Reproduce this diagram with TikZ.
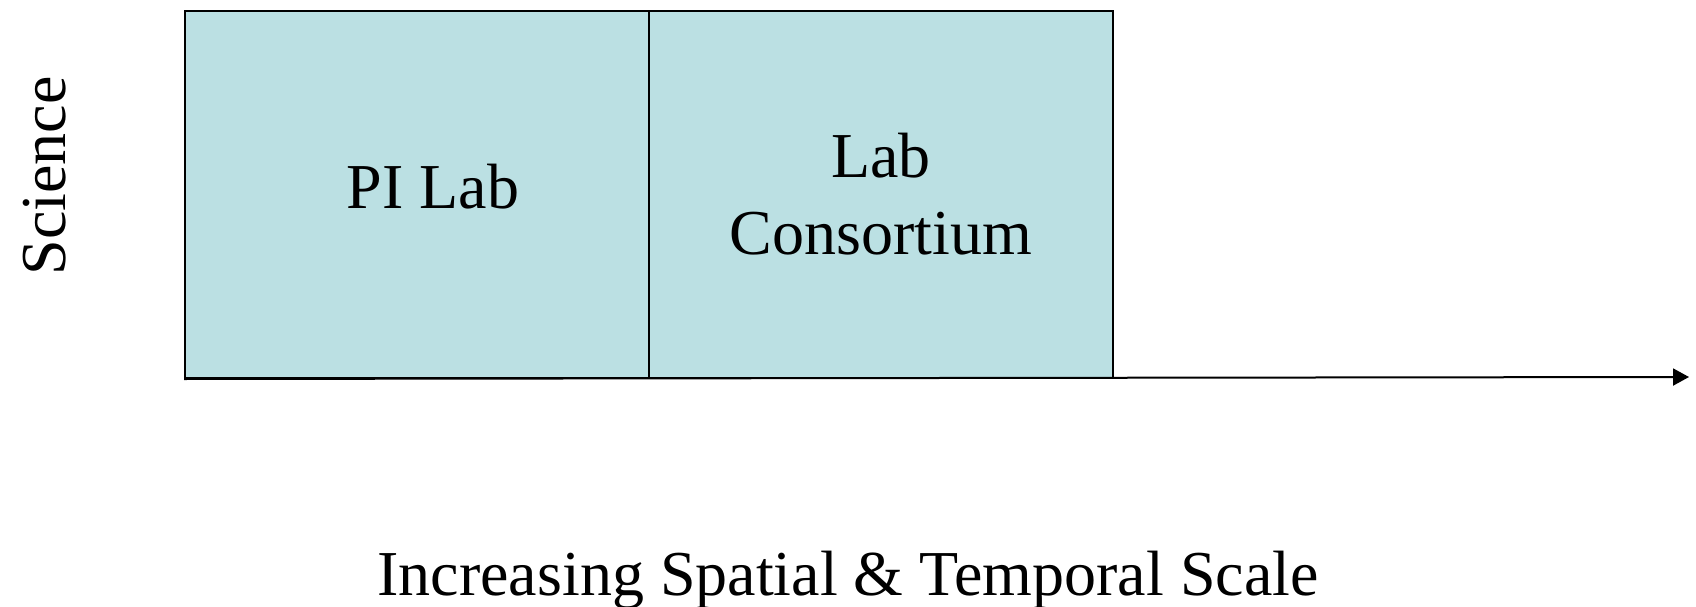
\documentclass[tikz,border=0pt]{standalone}
\usepackage{fontspec}
\setmainfont{Liberation Serif}
\usetikzlibrary{arrows.meta}
\definecolor{boxfill}{HTML}{BBE0E3}
\begin{document}
\begin{tikzpicture}[x=1pt,y=-1pt,
  labbox/.style={draw=black,line width=2pt,fill=boxfill,rectangle,
    minimum width=464pt,minimum height=367pt,inner sep=0pt,
    align=center,font=\fontsize{64}{77}\selectfont,anchor=north west},
  lbl/.style={font=\fontsize{64}{77}\selectfont,inner sep=0pt}]
\useasboundingbox (0,0) rectangle (1696,607);
\node[labbox] (pi) at (184,10) {};
\node[lbl] (pitext) at ([xshift=16pt,yshift=8pt]pi.center) {PI Lab};
\node[labbox] (cons) at (648,10) {Lab\\Consortium};
\coordinate (axisend) at (1689,377);
\draw[line width=2pt,-{Triangle[length=16pt,width=17pt]}] (pi.south west) -- (axisend);
\node[lbl,rotate=90,anchor=base] (sci) at (65,176) {Science};
\node[lbl,anchor=base] (xlab) at (848,595) {Increasing Spatial \& Temporal Scale};
\end{tikzpicture}
\end{document}
